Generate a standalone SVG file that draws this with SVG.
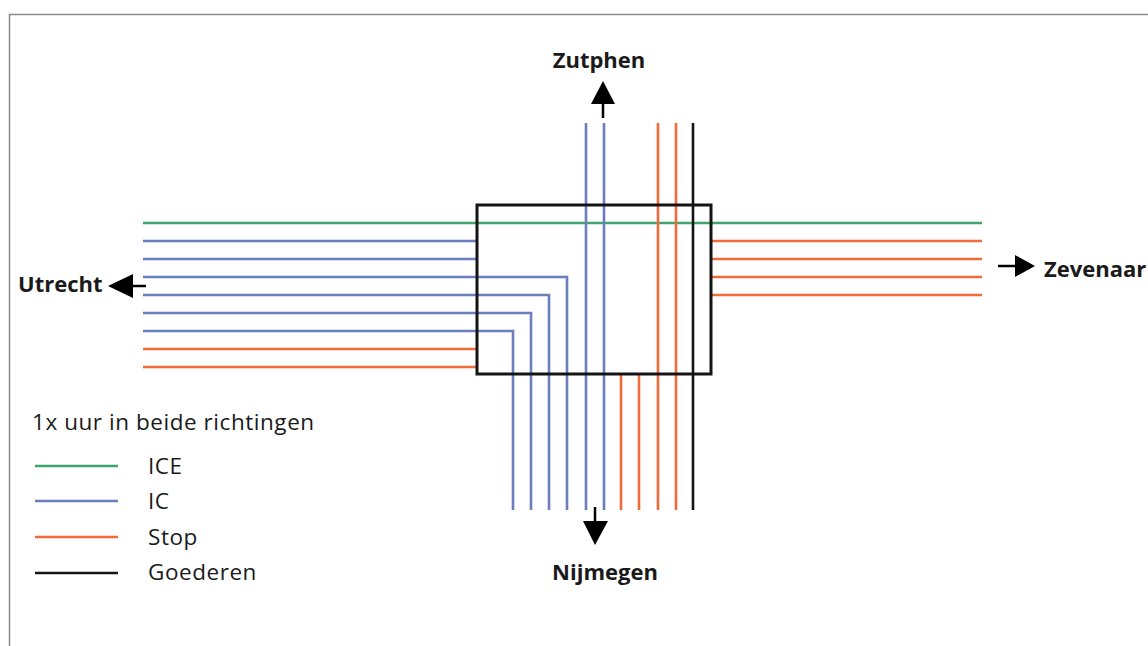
<svg xmlns="http://www.w3.org/2000/svg" width="1148" height="646" viewBox="0 0 1148 646">
<style>
.g{stroke:#3fa56e;stroke-width:2.6;fill:none}
.b{stroke:#6a7ec0;stroke-width:2.6;fill:none}
.o{stroke:#f06a3a;stroke-width:2.6;fill:none}
.k{stroke:#141414;stroke-width:2.6;fill:none}
.lbl{font-family:"Open Sans","Liberation Sans",sans-serif;font-weight:bold;font-size:22px;fill:#1a1a1a}
.leg{font-family:"Open Sans","Liberation Sans",sans-serif;font-size:22.5px;letter-spacing:0.55px;fill:#1a1a1a}
.ar{fill:#000}
</style>
<rect width="1148" height="646" fill="#fff"/>
<path d="M9.5 646 V14.5 H1148" fill="none" stroke="#8a8a8a" stroke-width="1.5"/>
<g id="connectors">
<line class="g" x1="143" y1="223" x2="982" y2="223"/>
<line class="b" x1="143" y1="241" x2="477" y2="241"/>
<line class="b" x1="143" y1="259" x2="477" y2="259"/>
<polyline class="b" points="143,277 567,277 567,510"/>
<polyline class="b" points="143,295 549,295 549,510"/>
<polyline class="b" points="143,313 531,313 531,510"/>
<polyline class="b" points="143,331 513,331 513,510"/>
<line class="o" x1="143" y1="349" x2="477" y2="349"/>
<line class="o" x1="143" y1="367" x2="477" y2="367"/>
<line class="b" x1="586" y1="123" x2="586" y2="510"/>
<line class="b" x1="604" y1="123" x2="604" y2="510"/>
<line class="o" x1="658" y1="123" x2="658" y2="510"/>
<line class="o" x1="676" y1="123" x2="676" y2="510"/>
<line class="k" x1="693" y1="123" x2="693" y2="510"/>
<line class="o" x1="621" y1="374" x2="621" y2="510"/>
<line class="o" x1="639" y1="374" x2="639" y2="510"/>
<line class="o" x1="711" y1="241" x2="982" y2="241"/>
<line class="o" x1="711" y1="259" x2="982" y2="259"/>
<line class="o" x1="711" y1="277" x2="982" y2="277"/>
<line class="o" x1="711" y1="295" x2="982" y2="295"/>
</g>
<g id="station">
<rect x="477" y="205" width="234" height="169" fill="none" stroke="#141414" stroke-width="3"/>
</g>
<g id="zutphen">
<line x1="603" y1="102" x2="603" y2="118" stroke="#000" stroke-width="2.5"/>
<polygon class="ar" points="603,81 615,104 591,104"/>
<text class="lbl" x="599" y="68" text-anchor="middle">Zutphen</text>
</g>
<g id="nijmegen">
<line x1="595" y1="507" x2="595" y2="522" stroke="#000" stroke-width="2.5"/>
<polygon class="ar" points="595,545 583,521 608,521"/>
<text class="lbl" x="605" y="580" text-anchor="middle">Nijmegen</text>
</g>
<g id="utrecht">
<line x1="131" y1="286" x2="146" y2="286" stroke="#000" stroke-width="2.5"/>
<polygon class="ar" points="108,286 133,274 133,298"/>
<text class="lbl" x="18" y="292">Utrecht</text>
</g>
<g id="zevenaar">
<line x1="998" y1="266" x2="1017" y2="266" stroke="#000" stroke-width="2.5"/>
<polygon class="ar" points="1035,266 1015,255 1015,277"/>
<text class="lbl" x="1044" y="277">Zevenaar</text>
</g>
<g id="legend">
<text class="leg" x="32" y="430">1x uur in beide richtingen</text>
<line class="g" x1="35" y1="466" x2="118" y2="466"/>
<line class="b" x1="35" y1="501" x2="118" y2="501"/>
<line class="o" x1="35" y1="537" x2="118" y2="537"/>
<line class="k" x1="35" y1="573" x2="118" y2="573"/>
<text class="leg" x="148" y="474">ICE</text>
<text class="leg" x="148" y="509">IC</text>
<text class="leg" x="148" y="545">Stop</text>
<text class="leg" x="148" y="580">Goederen</text>
</g>
</svg>
